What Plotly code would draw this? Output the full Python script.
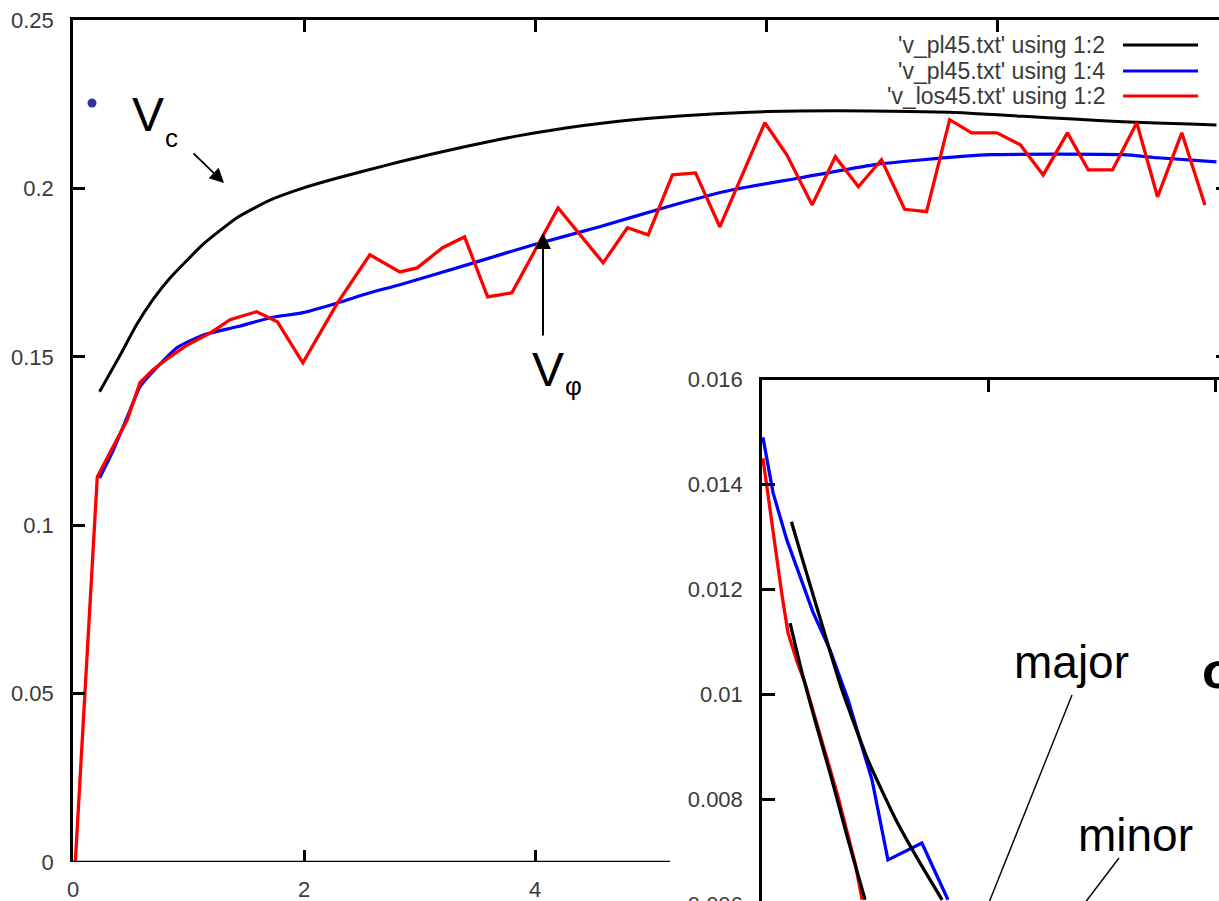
import plotly.graph_objects as go

# ---------------- data ----------------
# main panel: rotation curves
vc_r = [0.23, 0.41, 0.55, 0.69, 0.84, 1.13, 1.42, 1.71, 1.99, 2.29, 2.57, 2.83, 3.12, 3.41, 3.70,
        3.98, 4.28, 4.56, 4.85, 5.14, 5.43, 5.71, 6.01, 6.29, 6.90, 7.59, 8.23, 8.66, 9.09, 9.67, 9.90]
vc_v = [0.1396, 0.1506, 0.1595, 0.1669, 0.1734, 0.1835, 0.1913, 0.1966, 0.2001, 0.2031, 0.2056, 0.2079,
        0.2103, 0.2125, 0.2146, 0.2164, 0.2180, 0.2193, 0.2204, 0.2212, 0.2219, 0.2224, 0.2228, 0.2230,
        0.2230, 0.2226, 0.2214, 0.2206, 0.2198, 0.2191, 0.2188]

vphi_r = [0.23, 0.35, 0.47, 0.58, 0.73, 0.90, 1.13, 1.42, 1.71, 1.99, 2.29, 2.57, 2.83, 3.41, 3.98,
          4.56, 5.14, 5.71, 6.29, 6.93, 7.36, 7.94, 9.09, 9.39, 9.90]
vphi_v = [0.1140, 0.1224, 0.1322, 0.1411, 0.1470, 0.1527, 0.1565, 0.1589, 0.1616, 0.1631, 0.1660, 0.1690,
          0.1714, 0.1773, 0.1832, 0.1886, 0.1945, 0.1996, 0.2031, 0.2070, 0.2085, 0.2100, 0.2100, 0.2091,
          0.2079]

vlos_r = [0.02, 0.21, 0.32, 0.47, 0.58, 0.69, 0.84, 0.99, 1.19, 1.36, 1.59, 1.77, 1.99, 2.29, 2.57,
          2.83, 2.98, 3.20, 3.39, 3.59, 3.80, 4.20, 4.59, 4.80, 4.98, 5.19, 5.39, 5.60, 5.99, 6.18,
          6.40, 6.60, 6.80, 7.00, 7.20, 7.39, 7.59, 7.78, 8.00, 8.20, 8.40, 8.61, 8.79, 9.00, 9.21,
          9.39, 9.60, 9.80]
vlos_v = [0.0, 0.1143, 0.1215, 0.1313, 0.1423, 0.1461, 0.1500, 0.1535, 0.1571, 0.1610, 0.1634, 0.1604,
          0.1482, 0.1660, 0.1803, 0.1752, 0.1764, 0.1824, 0.1856, 0.1678, 0.1690, 0.1942, 0.1779, 0.1883,
          0.1862, 0.2040, 0.2046, 0.1886, 0.2195, 0.2100, 0.1951, 0.2094, 0.2005, 0.2085, 0.1938, 0.1931,
          0.2204, 0.2165, 0.2165, 0.2130, 0.2040, 0.2165, 0.2055, 0.2055, 0.2195, 0.1975, 0.2165, 0.1951]

# inset: dispersion profiles
sig_pl_r = [0.004, 0.049, 0.110, 0.168, 0.225, 0.300, 0.380, 0.442, 0.486, 0.556, 0.706, 0.821]
sig_pl_v = [0.01490, 0.01384, 0.01294, 0.01224, 0.01157, 0.01085, 0.00990, 0.00900, 0.00837, 0.00685,
            0.00717, 0.00609]
sig_los_r = [0.004, 0.035, 0.062, 0.088, 0.115, 0.155, 0.190, 0.265, 0.336, 0.411, 0.442]
sig_los_v = [0.01450, 0.01351, 0.01275, 0.01190, 0.01117, 0.01062, 0.01022, 0.00913, 0.00805, 0.00679,
             0.00609]
sig_major_r = [0.130, 0.168, 0.212, 0.269, 0.353, 0.468, 0.587, 0.706, 0.795]
sig_major_v = [0.01329, 0.01273, 0.01209, 0.01127, 0.01009, 0.00875, 0.00765, 0.00673, 0.00609]
sig_minor_r = [0.124, 0.177, 0.234, 0.309, 0.380, 0.455]
sig_minor_v = [0.01136, 0.01041, 0.00951, 0.00837, 0.00723, 0.00609]

main_xticks = [0, 2, 4]
main_top_ticks = [0, 2, 4, 6, 8, 10]
main_yticks = [0, 0.05, 0.1, 0.15, 0.2, 0.25]
main_ylabels = ["0", "0.05", "0.1", "0.15", "0.2", "0.25"]
inset_yticks = [0.004, 0.006, 0.008, 0.010, 0.012, 0.014, 0.016]
inset_ylabels = ["0.004", "0.006", "0.008", "0.01", "0.012", "0.014", "0.016"]

legend_names = ["'v_pl45.txt' using 1:2", "'v_pl45.txt' using 1:4", "'v_los45.txt' using 1:2"]
colors = ["#000000", "#0000ff", "#ff0000"]

# ---------------- layout geometry (pixels) ----------------
W, H = 1300, 1020
M_L, M_R, M_T, M_B = 73, 1228, 20, 862
I_L, I_R, I_T, I_B = 762, 1260.3, 379.5, 1009.5


def fx(px):
    return px / W


def fy(py):
    return 1 - py / H


FONT = "Liberation Sans, Arial, sans-serif"
TXT = "#3a3a3a"

fig = go.Figure()

# main curves
fig.add_trace(go.Scatter(x=vc_r, y=vc_v, mode="lines",
                         line=dict(color=colors[0], width=3, shape="spline", smoothing=0.5),
                         xaxis="x", yaxis="y", showlegend=False))
fig.add_trace(go.Scatter(x=vphi_r, y=vphi_v, mode="lines",
                         line=dict(color=colors[1], width=3.2, shape="spline", smoothing=0.5),
                         xaxis="x", yaxis="y", showlegend=False))
fig.add_trace(go.Scatter(x=vlos_r, y=vlos_v, mode="lines", line=dict(color=colors[2], width=3.3),
                         xaxis="x", yaxis="y", showlegend=False))
# dummy trace for mirrored top/right axes of the main panel
fig.add_trace(go.Scatter(x=[], y=[], xaxis="x3", yaxis="y3", showlegend=False))

# inset curves
fig.add_trace(go.Scatter(x=sig_pl_r, y=sig_pl_v, mode="lines", line=dict(color="#0000ff", width=3.3),
                         xaxis="x2", yaxis="y2", showlegend=False))
fig.add_trace(go.Scatter(x=sig_los_r, y=sig_los_v, mode="lines", line=dict(color="#ff0000", width=3.3),
                         xaxis="x2", yaxis="y2", showlegend=False))
fig.add_trace(go.Scatter(x=sig_major_r, y=sig_major_v, mode="lines",
                         line=dict(color="#000000", width=3.3, shape="spline", smoothing=0.5),
                         xaxis="x2", yaxis="y2", showlegend=False))
fig.add_trace(go.Scatter(x=sig_minor_r, y=sig_minor_v, mode="lines",
                         line=dict(color="#000000", width=3.3, shape="spline", smoothing=0.5),
                         xaxis="x2", yaxis="y2", showlegend=False))

tickfont = dict(family=FONT, size=22, color=TXT)
common = dict(showgrid=False, zeroline=False, automargin=False, tickcolor="black")

fig.update_layout(
    width=W, height=H,
    margin=dict(l=0, r=0, t=0, b=0, pad=0),
    paper_bgcolor="white", plot_bgcolor="white",
    showlegend=False,
    xaxis=dict(domain=[fx(M_L), fx(M_R)], range=[0, 10], anchor="y",
               tickvals=main_xticks, ticktext=[str(v) for v in main_xticks],
               ticks="inside", ticklen=12, tickwidth=2.5,
               showline=False, tickfont=tickfont, ticklabelstandoff=12, **common),
    yaxis=dict(domain=[fy(M_B), fy(M_T)], range=[0, 0.25], anchor="x",
               tickvals=main_yticks, ticktext=main_ylabels,
               ticks="inside", ticklen=12, tickwidth=2.5,
               showline=True, linecolor="black", linewidth=2.5,
               tickfont=tickfont, ticklabelstandoff=12, **common),
    xaxis3=dict(overlaying="x", side="top", anchor="y3", range=[0, 10],
                tickvals=main_top_ticks, showticklabels=False,
                ticks="inside", ticklen=12, tickwidth=2.5,
                showline=True, linecolor="black", linewidth=2.5, **common),
    yaxis3=dict(overlaying="y", side="right", anchor="x3", range=[0, 0.25],
                tickvals=[0.15, 0.2, 0.25], showticklabels=False,
                ticks="inside", ticklen=12, tickwidth=2.5,
                showline=True, linecolor="black", linewidth=2.5, **common),
    xaxis2=dict(domain=[fx(I_L), fx(I_R)], range=[0, 2.2], anchor="y2",
                tickvals=[0, 1, 2], showticklabels=False,
                ticks="inside", ticklen=13, tickwidth=2.5,
                showline=True, mirror="ticks", linecolor="black", linewidth=2.5, **common),
    yaxis2=dict(domain=[fy(I_B), fy(I_T)], range=[0.004, 0.016], anchor="x2",
                tickvals=inset_yticks, ticktext=inset_ylabels,
                ticks="inside", ticklen=13, tickwidth=2.5,
                showline=True, mirror="ticks", linecolor="black", linewidth=2.5,
                tickfont=tickfont, ticklabelstandoff=12, **common),
)

shapes = []
# bottom spine of the main panel (hidden behind inset box on the right)
shapes.append(dict(type="line", xref="x", yref="y", x0=0, x1=(670 - M_L) / (M_R - M_L) * 10, y0=0, y1=0,
                   line=dict(color="black", width=2.5), layer="above"))
# legend samples
leg_y = [45, 71, 96]
for c, yy in zip(colors, leg_y):
    shapes.append(dict(type="line", xref="paper", yref="paper", x0=fx(1123), x1=fx(1198),
                       y0=fy(yy), y1=fy(yy), line=dict(color=c, width=3)))
# blue dot
shapes.append(dict(type="circle", xref="paper", yref="paper", x0=fx(87.5), x1=fx(96.5),
                   y0=fy(107.5), y1=fy(98.5), fillcolor="#33339a", line=dict(width=0)))
# pointer lines in inset
shapes.append(dict(type="line", xref="paper", yref="paper", x0=fx(1072), y0=fy(695), x1=fx(976), y1=fy(935),
                   line=dict(color="black", width=1.4)))
shapes.append(dict(type="line", xref="paper", yref="paper", x0=fx(1119), y0=fy(858), x1=fx(1078), y1=fy(912),
                   line=dict(color="black", width=1.4)))
fig.update_layout(shapes=shapes)

ann = []
for name, yy in zip(legend_names, leg_y):
    ann.append(dict(x=fx(1107), y=fy(yy), xref="paper", yref="paper", text=name, showarrow=False,
                    xanchor="right", yanchor="middle", font=dict(family=FONT, size=23, color=TXT)))

big = dict(family=FONT, size=48, color="black")
small = dict(family=FONT, size=26, color="black")
ann.append(dict(x=fx(148), y=fy(114), xref="paper", yref="paper", text="V", showarrow=False,
                xanchor="center", yanchor="middle", font=big))
ann.append(dict(x=fx(171), y=fy(138), xref="paper", yref="paper", text="c", showarrow=False,
                xanchor="center", yanchor="middle", font=small))
ann.append(dict(x=fx(548), y=fy(369), xref="paper", yref="paper", text="V", showarrow=False,
                xanchor="center", yanchor="middle", font=big))
ann.append(dict(x=fx(573), y=fy(386), xref="paper", yref="paper", text="φ", showarrow=False,
                xanchor="center", yanchor="middle", font=small))
ann.append(dict(x=fx(1071), y=fy(662), xref="paper", yref="paper", text="major", showarrow=False,
                xanchor="center", yanchor="middle", font=dict(family=FONT, size=46, color="black")))
ann.append(dict(x=fx(1135), y=fy(835), xref="paper", yref="paper", text="minor", showarrow=False,
                xanchor="center", yanchor="middle", font=dict(family=FONT, size=46, color="black")))
ann.append(dict(x=fx(1200), y=fy(670), xref="paper", yref="paper", text="<b>σ</b>", showarrow=False,
                xanchor="left", yanchor="middle", font=dict(family=FONT, size=52, color="black")))
# arrows
ann.append(dict(x=fx(224), y=fy(183), xref="paper", yref="paper", text="", showarrow=True,
                ax=-32, ay=-31, arrowhead=2, arrowsize=1.6, arrowwidth=1.8, arrowcolor="black"))
ann.append(dict(x=fx(543), y=fy(233), xref="paper", yref="paper", text="", showarrow=True,
                ax=0, ay=104, arrowhead=2, arrowsize=1.6, arrowwidth=2, arrowcolor="black"))
fig.update_layout(annotations=ann)

fig.write_html("out.html", include_plotlyjs=True, config={"displayModeBar": False},
               post_script="document.body.style.margin='0';document.body.style.overflow='hidden';")
